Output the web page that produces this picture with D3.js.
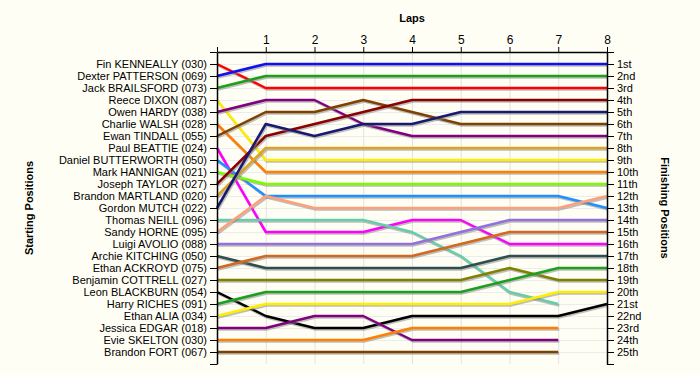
<!DOCTYPE html>
<html>
<head>
<meta charset="utf-8">
<script src="https://cdn.jsdelivr.net/npm/d3@7"></script>
<style>
  body { margin: 0; background: #fffef5; }
  #chart { width: 700px; height: 375px; }
  text { font-family: "Liberation Sans", Arial, sans-serif; }
</style>
</head>
<body>
<div id="chart"></div>
<script>
var App = App || {};

// drivers in starting order
var drivers = [
  "Fin KENNEALLY (030)", "Dexter PATTERSON (069)", "Jack BRAILSFORD (073)",
  "Reece DIXON (087)", "Owen HARDY (038)", "Charlie WALSH (028)",
  "Ewan TINDALL (055)", "Paul BEATTIE (024)", "Daniel BUTTERWORTH (050)",
  "Mark HANNIGAN (021)", "Joseph TAYLOR (027)", "Brandon MARTLAND (020)",
  "Gordon MUTCH (022)", "Thomas NEILL (096)", "Sandy HORNE (095)",
  "Luigi AVOLIO (088)", "Archie KITCHING (050)", "Ethan ACKROYD (075)",
  "Benjamin COTTRELL (027)", "Leon BLACKBURN (054)", "Harry RICHES (091)",
  "Ethan ALIA (034)", "Jessica EDGAR (018)", "Evie SKELTON (030)",
  "Brandon FORT (067)"
];

var laps = [0, 1, 2, 3, 4, 5, 6, 7, 8];
var lapLabels = ["", "1", "2", "3", "4", "5", "6", "7", "8"];

var finishLabels = ["1st", "2nd", "3rd", "4th", "5th", "6th", "7th", "8th", "9th",
  "10th", "11th", "12th", "13th", "14th", "15th", "16th", "17th", "18th", "19th",
  "20th", "21st", "22nd", "23rd", "24th", "25th"];

// position of each driver after each lap (null = no more laps)
var positions = [
  [1, 3, 3, 3, 3, 3, 3, 3, 3],
  [2, 1, 1, 1, 1, 1, 1, 1, 1],
  [3, 2, 2, 2, 2, 2, 2, 2, 2],
  [4, 9, 9, 9, 9, 9, 9, 9, 9],
  [5, 4, 4, 6, 7, 7, 7, 7, 7],
  [6, 10, 10, 10, 10, 10, 10, 10, 10],
  [7, 5, 5, 4, 5, 6, 6, 6, 6],
  [8, 15, 15, 15, 14, 14, 16, 16, 16],
  [9, 12, 12, 12, 12, 12, 12, 12, 13],
  [10, 11, 11, 11, 11, 11, 11, 11, 11],
  [11, 7, 6, 5, 4, 4, 4, 4, 4],
  [12, 8, 8, 8, 8, 8, 8, 8, 8],
  [13, 6, 7, 6, 6, 5, 5, 5, 5],
  [14, 14, 14, 14, 15, 17, 20, 21, null],
  [15, 12, 13, 13, 13, 13, 13, 13, 12],
  [16, 16, 16, 16, 16, 15, 14, 14, 14],
  [17, 18, 18, 18, 18, 18, 17, 17, 17],
  [18, 17, 17, 17, 17, 16, 15, 15, 15],
  [19, 19, 19, 19, 19, 19, 18, 19, 19],
  [20, 22, 23, 23, 22, 22, 22, 22, 21],
  [21, 20, 20, 20, 20, 20, 19, 18, 18],
  [22, 21, 21, 21, 21, 21, 21, 20, 20],
  [23, 23, 22, 22, 24, 24, 24, 24, null],
  [24, 24, 24, 24, 23, 23, 23, 23, null],
  [25, 25, 25, 25, 25, 25, 25, 25, null]
];

var colors = [
  "#ff0000", "#1010f0", "#1ca01c", "#ffee00", "#800080", "#ff8000", "#804000",
  "#ff00ff", "#1e90ff", "#7cfc00", "#8b0000", "#daa520", "#191970", "#66cdaa",
  "#ffa07a", "#9370db", "#2f4f4f", "#d2691e", "#808000", "#000000",
  "#1ca01c", "#ffee00", "#800080", "#ff8000", "#804000"
];

(function() {
  let svg, x, y;

  App.init = function() {
    let width = 700, height = 375;
    let margin = {top: 52, right: 93, bottom: 11, left: 217};

    svg = d3.select("#chart").append("svg")
      .attr("width", width)
      .attr("height", height);

    svg.append("rect")
      .attr("width", width).attr("height", height)
      .attr("fill", "#fffef5");

    x = d3.scaleLinear()
      .domain([0, 8])
      .range([margin.left, width - margin.right]);

    y = d3.scaleLinear()
      .domain([0, drivers.length + 1])
      .range([margin.top, height - margin.bottom]);

    let rows = d3.range(1, drivers.length + 1);

    // grid
    let grid = svg.append("g");
    grid.selectAll(".hgrid")
      .data(rows)
      .enter().append("line")
      .attr("x1", x(0)).attr("x2", x(8))
      .attr("y1", d => y(d) + 0.5).attr("y2", d => y(d) + 0.5)
      .attr("stroke", "#ececec");
    grid.selectAll(".vgrid")
      .data(laps.slice(1, 8))
      .enter().append("line")
      .attr("x1", d => x(d) + 0.5).attr("x2", d => x(d) + 0.5)
      .attr("y1", y(0)).attr("y2", y(drivers.length + 1))
      .attr("stroke", "#e2e2e2");

    // lines
    let line = d3.line()
      .defined(d => d != null)
      .x((d, i) => x(laps[i]))
      .y(d => y(d));

    let series = svg.append("g").selectAll(".driver")
      .data(positions)
      .enter().append("g")
      .attr("class", "driver");

    // drop shadow under each line
    series.append("path")
      .attr("d", line)
      .attr("fill", "none")
      .attr("stroke", "#888")
      .attr("stroke-opacity", 0.55)
      .attr("stroke-width", 2.5)
      .attr("transform", "translate(1,1.5)");

    series.append("path")
      .attr("d", line)
      .attr("fill", "none")
      .attr("stroke", (d, i) => colors[i])
      .attr("stroke-width", 2.5)
      .attr("stroke-linejoin", "round");

    // axes
    let ticks = d3.range(0, drivers.length + 2);

    let left = d3.axisLeft(y)
      .tickValues(ticks)
      .tickSize(7)
      .tickSizeOuter(0)
      .tickFormat(d => drivers[d - 1] || "");
    svg.append("g")
      .attr("class", "side")
      .attr("transform", "translate(" + x(0) + ",0)")
      .call(left);

    let right = d3.axisRight(y)
      .tickValues(ticks)
      .tickSize(7)
      .tickSizeOuter(0)
      .tickFormat(d => finishLabels[d - 1] || "");
    svg.append("g")
      .attr("class", "side")
      .attr("transform", "translate(" + x(8) + ",0)")
      .call(right);

    let top = d3.axisTop(x)
      .tickValues(laps)
      .tickSize(5)
      .tickSizeOuter(0)
      .tickFormat((d, i) => lapLabels[i]);
    svg.append("g")
      .attr("class", "top")
      .attr("transform", "translate(0," + y(0) + ")")
      .call(top);

    svg.selectAll(".domain").attr("stroke", "#000").attr("stroke-width", 1.5);
    svg.selectAll(".tick line").attr("stroke", "#000");
    svg.selectAll(".side .tick text")
      .attr("fill", "#000")
      .style("font-size", "11px");
    svg.selectAll(".top .tick text")
      .attr("fill", "#000")
      .style("font-size", "12px");

    // titles
    svg.append("text")
      .attr("x", x(4)).attr("y", 22)
      .attr("text-anchor", "middle")
      .style("font-size", "11px").style("font-weight", "bold")
      .text("Laps");

    svg.append("text")
      .attr("transform", "translate(33," + y(13) + ") rotate(-90)")
      .attr("text-anchor", "middle")
      .style("font-size", "11px").style("font-weight", "bold")
      .text("Starting Positions");

    svg.append("text")
      .attr("transform", "translate(661," + y(13) + ") rotate(90)")
      .attr("text-anchor", "middle")
      .style("font-size", "11px").style("font-weight", "bold")
      .text("Finishing Positions");
  };

})();

App.init();
</script>
</body>
</html>
